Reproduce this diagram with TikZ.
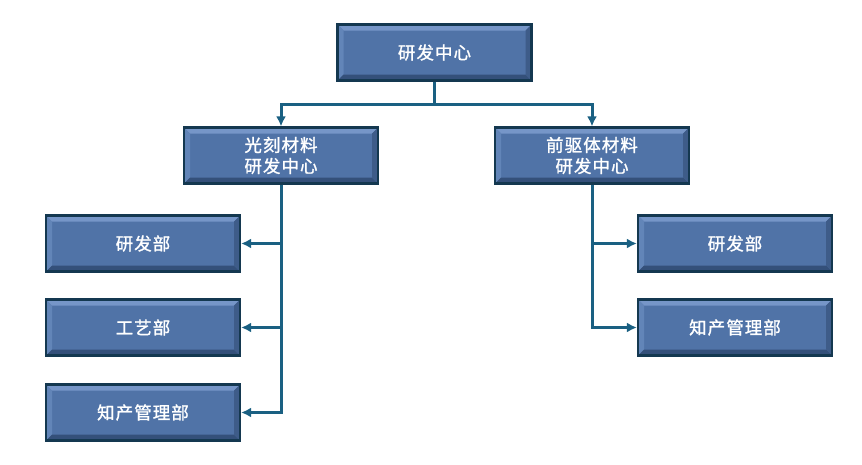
\documentclass[tikz,border=0pt]{standalone}
\usepackage{fontspec}
\usepackage{tikz}
\usetikzlibrary{arrows.meta,calc,shadows}
\newfontfamily\cjk[LetterSpace=6,FakeBold=1.3]{Noto Sans CJK SC}

\definecolor{unitfill}{RGB}{80,115,167}
\definecolor{unitlight}{RGB}{118,150,200}
\definecolor{unitleft}{RGB}{98,133,184}
\definecolor{unitdark}{RGB}{52,80,122}
\definecolor{unitright}{RGB}{62,92,137}
\definecolor{unitedge}{RGB}{20,56,80}
\definecolor{linkcol}{RGB}{26,96,130}

\tikzset{
  unit/.style={draw=unitedge, line width=2.2pt, fill=unitfill,
    minimum width=194pt, minimum height=56pt, inner sep=0pt,
    align=center, text=white, font=\cjk\fontsize{17.5}{21}\selectfont,
    drop shadow={shadow xshift=1.2pt, shadow yshift=-1.2pt, fill=black!80, opacity=.5},
    path picture={
      \path (path picture bounding box.north west) coordinate (bnw)
            (path picture bounding box.north east) coordinate (bne)
            (path picture bounding box.south west) coordinate (bsw)
            (path picture bounding box.south east) coordinate (bse);
      % bevel strips
      \fill[unitlight] (bnw) -- (bne) -- ($(bne)+(-6pt,-6pt)$) -- ($(bnw)+(6pt,-6pt)$) -- cycle;
      \fill[unitleft] (bnw) -- (bsw) -- ($(bsw)+(6pt,6pt)$) -- ($(bnw)+(6pt,-6pt)$) -- cycle;
      \fill[unitdark] (bsw) -- (bse) -- ($(bse)+(-6pt,6pt)$) -- ($(bsw)+(6pt,6pt)$) -- cycle;
      \fill[unitright] (bne) -- (bse) -- ($(bse)+(-6pt,6pt)$) -- ($(bne)+(-6pt,-6pt)$) -- cycle;
    }},
  link/.style={draw=linkcol, line width=3pt, -{Latex[length=10pt,width=10pt]}},
}

\begin{document}
\begin{tikzpicture}[x=1pt,y=-1pt]
  \useasboundingbox (0,0) rectangle (862,464);

  % centre and the two sub-centres
  \node[unit] (centre) at (434.5,52.5) {研发中心};
  \node[unit] (litho) at (281,155.5) {光刻材料\\研发中心};
  \node[unit] (precur) at (592,155.5) {前驱体材料\\研发中心};

  % departments
  \node[unit] (lrd) at (143,243.5) {研发部};
  \node[unit] (lproc) at (143,327.5) {工艺部};
  \node[unit] (lip) at (143,412.5) {知产管理部};
  \node[unit] (rrd) at (735,243.5) {研发部};
  \node[unit] (rip) at (735,327.5) {知产管理部};

  \draw[link] (centre.south) -- ++(0,23) -| (litho.north);
  \draw[link] (centre.south) -- ++(0,23) -| (precur.north);

  \draw[link] (litho.south) |- (lrd.east);
  \draw[link] (litho.south) |- (lproc.east);
  \draw[link] (litho.south) |- (lip.east);

  \draw[link] (precur.south) |- (rrd.west);
  \draw[link] (precur.south) |- (rip.west);
\end{tikzpicture}
\end{document}
